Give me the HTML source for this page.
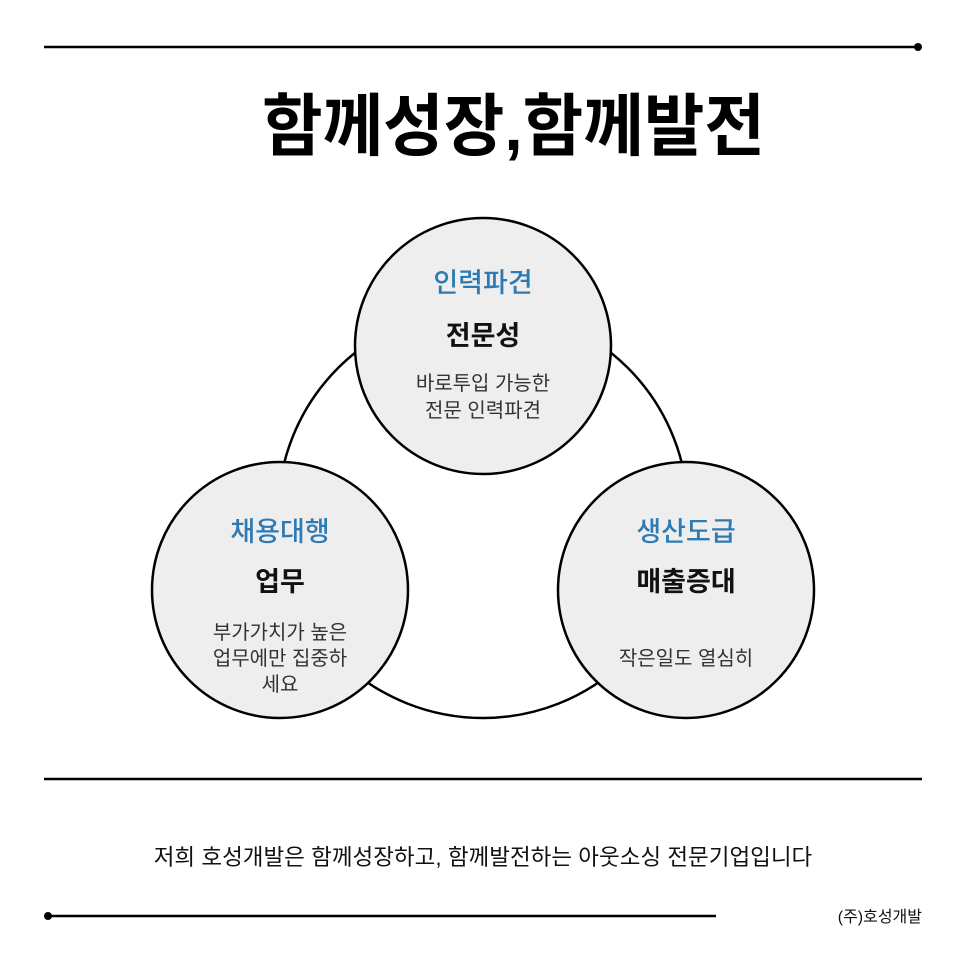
<!DOCTYPE html>
<html><head><meta charset="utf-8"><style>
html,body{margin:0;padding:0;background:#fff}
svg{display:block}
text{font-family:"Liberation Sans","Noto Sans CJK KR",sans-serif}
</style></head><body>
<svg width="966" height="966" viewBox="0 0 966 966" xmlns="http://www.w3.org/2000/svg">
<rect width="966" height="966" fill="#fff"/>
<line x1="44" y1="47" x2="918" y2="47" stroke="#000" stroke-width="2.5"/>
<circle cx="918" cy="47" r="4" fill="#000"/>
<text x="262" y="150" font-size="68" font-weight="700" textLength="503" lengthAdjust="spacingAndGlyphs" fill="#000">함께성장,함께발전</text>

<circle cx="483" cy="513" r="205" fill="#fff" stroke="#000" stroke-width="2.5"/>

<g stroke="#000" stroke-width="2.5" fill="#eeeeee">
<circle cx="483" cy="346" r="128"/>
<circle cx="280" cy="590" r="128"/>
<circle cx="686" cy="590" r="128"/>
</g>
<g text-anchor="middle">
<text x="483" y="292" font-size="27" fill="#2e7bb4" font-weight="500">인력파견</text>
<text x="483" y="345" font-size="27" font-weight="700" fill="#111">전문성</text>
<text x="483" y="390" font-size="20" fill="#333">바로투입 가능한</text>
<text x="483" y="417" font-size="20" fill="#333">전문 인력파견</text>

<text x="280" y="541" font-size="27" fill="#2e7bb4" font-weight="500">채용대행</text>
<text x="280" y="591" font-size="27" font-weight="700" fill="#111">업무</text>
<text x="280" y="639" font-size="20" fill="#333">부가가치가 높은</text>
<text x="280" y="665" font-size="20" fill="#333">업무에만 집중하</text>
<text x="280" y="691" font-size="20" fill="#333">세요</text>

<text x="686" y="541" font-size="27" fill="#2e7bb4" font-weight="500">생산도급</text>
<text x="686" y="591" font-size="27" font-weight="700" fill="#111">매출증대</text>
<text x="686" y="665" font-size="20" fill="#333">작은일도 열심히</text>

<text x="483" y="865" font-size="22.5" fill="#111">저희 호성개발은 함께성장하고, 함께발전하는 아웃소싱 전문기업입니다</text>
</g>
<line x1="44" y1="779" x2="922" y2="779" stroke="#000" stroke-width="2.5"/>
<line x1="48" y1="916" x2="716" y2="916" stroke="#000" stroke-width="2.5"/>
<circle cx="48" cy="916" r="4" fill="#000"/>
<text x="922" y="922" font-size="16" text-anchor="end" fill="#111">(주)호성개발</text>
</svg>
</body></html>
